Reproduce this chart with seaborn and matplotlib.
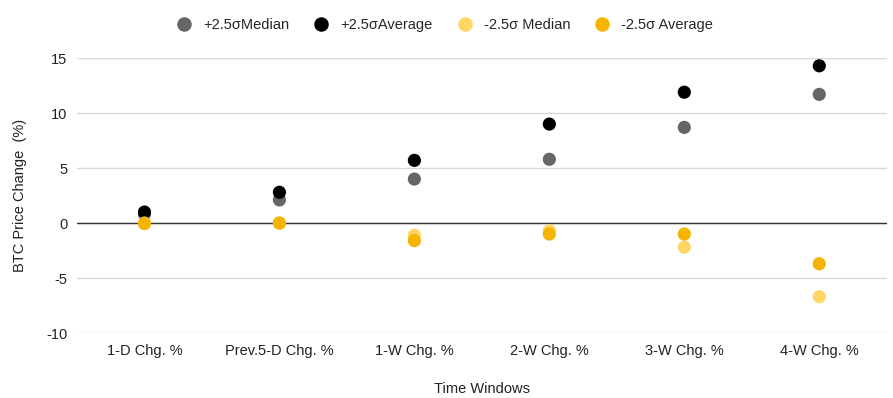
import pandas as pd
import matplotlib.pyplot as plt
import seaborn as sns

# data
WINDOWS = ["1-D Chg. %", "Prev.5-D Chg. %", "1-W Chg. %", "2-W Chg. %", "3-W Chg. %", "4-W Chg. %"]
PLUS_MEDIAN = [0.8, 2.1, 4.0, 5.8, 8.7, 11.7]
PLUS_AVERAGE = [1.0, 2.8, 5.7, 9.0, 11.9, 14.3]
MINUS_MEDIAN = [0.0, 0.0, -1.1, -0.7, -2.2, -6.7]
MINUS_AVERAGE = [-0.05, 0.0, -1.6, -1.0, -1.0, -3.7]
SERIES = ["+2.5σMedian", "+2.5σAverage", "-2.5σ Median", "-2.5σ Average"]
COLORS = ["#666666", "#000000", "#ffd666", "#f6b400"]
Y_TICKS = [-10, -5, 0, 5, 10, 15]

frames = []
for name, vals in zip(SERIES, [PLUS_MEDIAN, PLUS_AVERAGE, MINUS_MEDIAN, MINUS_AVERAGE]):
    frames.append(pd.DataFrame({"window": WINDOWS, "value": vals, "series": name}))
df = pd.concat(frames, ignore_index=True)

sns.set_style("white")
plt.rcParams["font.family"] = ["Liberation Sans", "DejaVu Sans"]
plt.rcParams["axes.unicode_minus"] = False

fig = plt.figure(figsize=(8.93, 3.98), dpi=100)
ax = fig.add_axes([0.0862, 0.1633, 0.9068, 0.6907])

ax.axhline(0, color="#333333", linewidth=1.0, zorder=1)
sns.scatterplot(
    data=df, x="window", y="value", hue="series",
    hue_order=SERIES, palette=COLORS,
    s=90, linewidth=0, ax=ax, zorder=3, clip_on=False,
)

ax.set_xlim(-0.5, len(WINDOWS) - 0.5)
ax.set_ylim(-10, 15)
ax.set_yticks(Y_TICKS)
ax.grid(axis="y", color="#d9d9d9", linewidth=1.0)
ax.grid(axis="x", visible=False)
for sp in ax.spines.values():
    sp.set_visible(False)
ax.tick_params(axis="both", length=0, labelsize=10.5, colors="#222222")
ax.tick_params(axis="y", pad=7)
ax.tick_params(axis="x", pad=8)

ax.set_xlabel("Time Windows", fontsize=10.5, color="#222222", labelpad=17)
ax.set_ylabel("BTC Price Change  (%)", fontsize=10.5, color="#222222", labelpad=14)

handles, labels = ax.get_legend_handles_labels()
ax.legend(
    handles, labels, loc="center", bbox_to_anchor=(0.45, 1.12),
    ncol=4, frameon=False, fontsize=10.5, handletextpad=0.3, columnspacing=1.2,
    markerscale=1.1,
)

fig.savefig("out.png", dpi=100)
